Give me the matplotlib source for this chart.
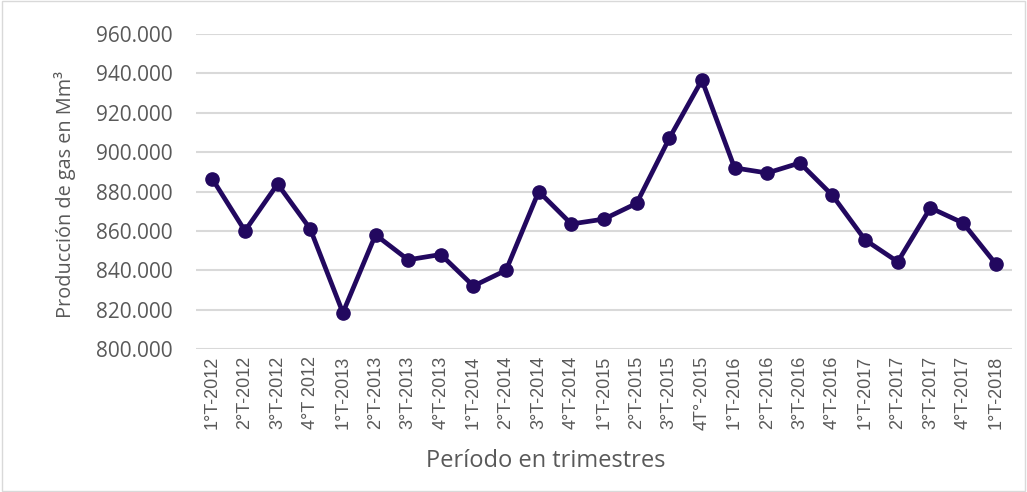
import matplotlib
matplotlib.use("Agg")
import matplotlib.pyplot as plt
from matplotlib.patches import Rectangle

periods = ["1°T-2012", "2°T-2012", "3°T-2012", "4°T 2012",
           "1°T-2013", "2°T-2013", "3°T-2013", "4°T-2013",
           "1°T-2014", "2°T-2014", "3°T-2014", "4°T-2014",
           "1°T-2015", "2°T-2015", "3°T-2015", "4T°-2015",
           "1°T-2016", "2°T-2016", "3°T-2016", "4°T-2016",
           "1°T-2017", "2°T-2017", "3°T-2017", "4°T-2017",
           "1°T-2018"]
production = [886.4, 860.0, 883.8, 861.0,
              818.4, 858.0, 845.3, 848.0,
              832.0, 840.0, 880.0, 863.5,
              866.0, 874.0, 907.0, 936.6,
              892.0, 889.4, 894.5, 878.0,
              855.4, 844.3, 871.7, 864.0,
              843.3]
y_ticks = [800, 820, 840, 860, 880, 900, 920, 940, 960]
y_tick_labels = ["800.000", "820.000", "840.000", "860.000", "880.000",
                 "900.000", "920.000", "940.000", "960.000"]

plt.rcParams['font.family'] = ['Open Sans', 'DejaVu Sans']

W, H = 1027, 492
fig = plt.figure(figsize=(W / 100, H / 100), dpi=100)
ax = fig.add_axes([196 / W, 1 - 349 / H, (1012 - 196) / W, (349 - 34) / H])

x = list(range(len(periods)))
ax.plot(x, production, color="#22085f", linewidth=3.4, marker="o",
        markersize=9.5, solid_capstyle="round", zorder=3)

ax.set_xlim(-0.5, len(periods) - 0.5)
ax.set_ylim(800, 960)
ax.set_yticks(y_ticks)
ax.set_yticklabels(y_tick_labels, fontsize=15, color="#595959")
ax.set_xticks(x)
ax.set_xticklabels(periods, rotation=90, fontsize=13, color="#595959",
                   family=['Liberation Sans Narrow', 'Liberation Sans', 'DejaVu Sans'])
ax.tick_params(axis="both", length=0)
ax.tick_params(axis="y", pad=17)
ax.tick_params(axis="x", pad=5)
ax.grid(axis="y", color="#d9d9d9", linewidth=1.5)
ax.set_axisbelow(True)
for s in ax.spines.values():
    s.set_visible(False)

fig.text(65 / W, 1 - 195 / H, "Producción de gas en Mm³", fontsize=14.3,
         color="#595959", rotation=90, ha="center", va="center")
fig.text(546 / W, 1 - 461 / H, "Período en trimestres", fontsize=17,
         color="#595959", ha="center", va="center")

fig.patches.append(Rectangle((0.002, 0.002), 0.996, 0.996, transform=fig.transFigure,
                             fill=False, edgecolor="#d9d9d9", linewidth=1))

fig.savefig("out.png", dpi=100)
